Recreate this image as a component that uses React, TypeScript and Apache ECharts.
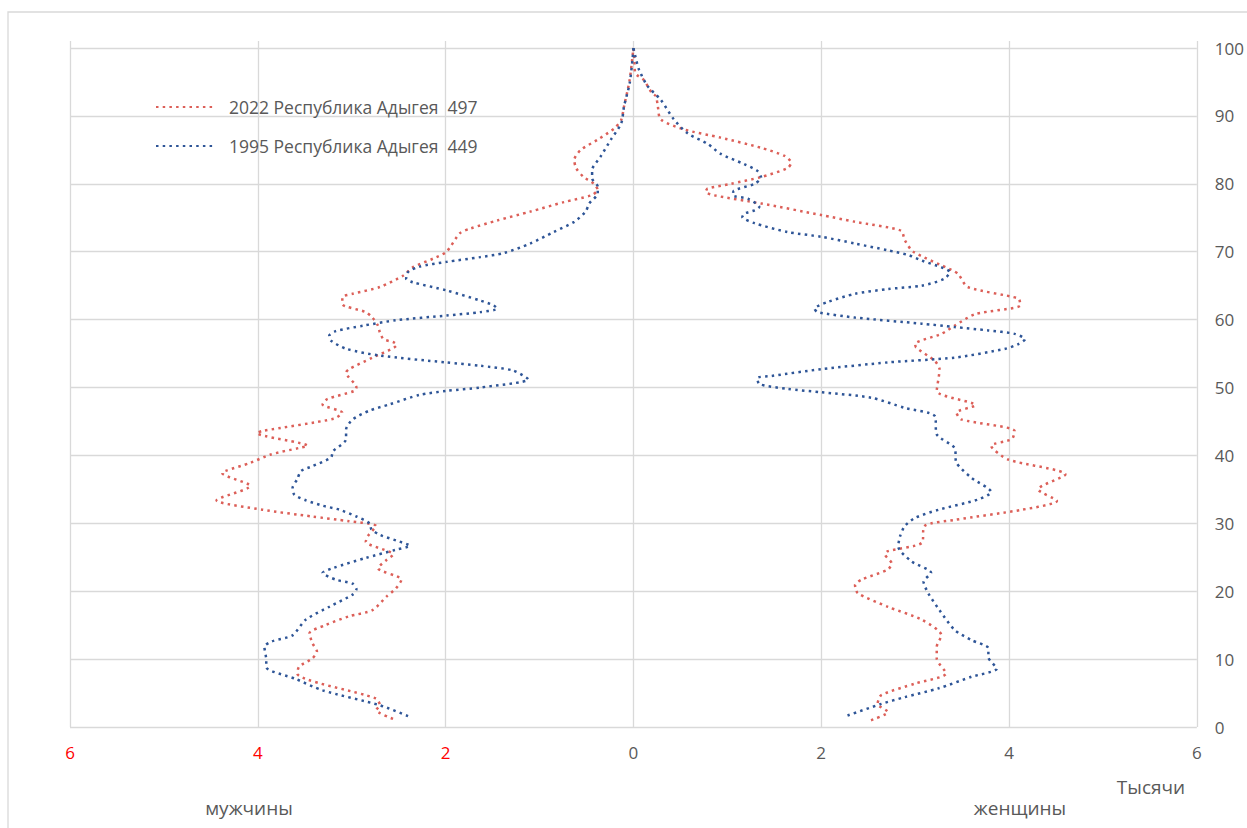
import React, { useEffect, useRef } from "react";
import * as echarts from "echarts";

// ---- Data (thousands of people by age) ----
const name2022 = "2022 Республика Адыгея\u00A0\u00A0497";
const name1995 = "1995 Республика Адыгея\u00A0\u00A0449";

const xTicks = [-6, -4, -2, 0, 2, 4, 6];
const yTicks = [0, 10, 20, 30, 40, 50, 60, 70, 80, 90, 100];

// 2022 men (left side, negative)
const age2022M = [1.2, 2.5, 3.2, 4.2, 7.9, 8.9, 10.1, 11.1, 12.4, 13.8, 15.0, 16.3, 17.2, 19.2, 20.4, 21.7, 23.4, 24.6, 25.4, 27.3, 28.1, 29.6, 30.3, 31.0, 32.0, 33.4, 35.5, 37.4, 37.7, 38.9, 40.1, 41.1, 41.4, 43.3, 43.6, 45.4, 46.3, 47.5, 48.3, 49.5, 50.0, 52.2, 52.7, 54.4, 56.3, 56.7, 57.1, 58.1, 59.1, 60.3, 61.1, 62.3, 63.3, 63.8, 64.8, 66.5, 67.7, 69.0, 70.0, 72.7, 73.4, 74.6, 75.9, 77.3, 78.3, 79.1, 80.0, 81.0, 82.3, 83.5, 85.0, 86.5, 88.2, 89.4, 91.4, 95.3, 100];
const val2022M = [-2.56, -2.74, -2.70, -2.74, -3.58, -3.56, -3.42, -3.37, -3.42, -3.45, -3.28, -3.03, -2.78, -2.63, -2.53, -2.47, -2.72, -2.63, -2.56, -2.85, -2.83, -2.74, -3.03, -3.42, -3.95, -4.44, -4.08, -4.38, -4.35, -4.08, -3.87, -3.56, -3.47, -4.01, -3.95, -3.19, -3.10, -3.31, -3.26, -2.97, -2.95, -3.06, -3.03, -2.78, -2.52, -2.56, -2.66, -2.70, -2.72, -2.78, -2.85, -3.10, -3.10, -2.99, -2.70, -2.45, -2.35, -2.13, -1.99, -1.85, -1.74, -1.45, -1.10, -0.74, -0.45, -0.38, -0.42, -0.53, -0.61, -0.63, -0.56, -0.38, -0.20, -0.13, -0.10, -0.04, 0];

// 2022 women (right side)
const age2022F = [1.0, 2.2, 3.4, 4.7, 6.4, 7.9, 10.1, 11.8, 13.5, 15.8, 17.7, 19.7, 20.9, 21.7, 23.2, 24.1, 25.4, 25.9, 27.1, 29.6, 30.5, 32.0, 33.3, 35.0, 37.2, 39.4, 41.4, 42.4, 43.6, 45.3, 46.3, 47.4, 49.5, 52.7, 53.9, 55.9, 56.4, 57.9, 59.1, 60.8, 62.1, 63.1, 64.8, 66.7, 67.3, 70.0, 71.7, 73.1, 74.4, 75.4, 77.1, 78.3, 78.8, 79.3, 80.0, 81.0, 82.3, 83.1, 84.1, 85.3, 86.8, 88.0, 89.5, 91.4, 92.9, 93.3, 95.3, 96.3, 98.3, 100];
const val2022F = [2.53, 2.71, 2.60, 2.64, 3.00, 3.33, 3.23, 3.23, 3.28, 3.07, 2.71, 2.39, 2.36, 2.43, 2.71, 2.75, 2.68, 2.71, 3.07, 3.10, 3.42, 4.14, 4.51, 4.31, 4.60, 3.99, 3.81, 4.03, 4.06, 3.49, 3.44, 3.64, 3.23, 3.26, 3.21, 3.01, 3.00, 3.28, 3.42, 3.64, 4.12, 4.10, 3.56, 3.46, 3.39, 2.98, 2.89, 2.85, 2.36, 2.00, 1.36, 0.86, 0.77, 0.79, 1.04, 1.36, 1.64, 1.68, 1.61, 1.36, 0.93, 0.54, 0.29, 0.26, 0.24, 0.20, 0.11, 0.02, 0.01, 0];

// 1995 men (left side, negative)
const age1995M = [1.6, 3.2, 5.4, 7.1, 8.8, 9.9, 11.8, 12.6, 13.5, 15.8, 17.7, 19.5, 20.3, 21.1, 21.7, 22.7, 23.4, 24.9, 26.1, 26.7, 27.3, 28.3, 29.1, 30.0, 31.0, 32.0, 32.6, 33.4, 34.2, 35.2, 36.5, 37.7, 38.4, 39.7, 40.6, 42.4, 43.8, 45.3, 46.6, 47.5, 48.9, 49.5, 50.0, 51.2, 52.5, 53.2, 53.7, 54.7, 55.7, 56.9, 57.6, 58.3, 59.1, 59.9, 60.6, 61.1, 61.6, 62.1, 62.8, 64.3, 65.5, 66.0, 67.0, 67.8, 68.5, 69.2, 69.8, 71.2, 72.9, 74.4, 75.9, 77.1, 78.6, 79.6, 80.8, 82.0, 84.0, 86.5, 88.9, 91.4, 94.8, 98.3, 100];
const val1995M = [-2.40, -2.70, -3.31, -3.60, -3.91, -3.91, -3.93, -3.85, -3.63, -3.49, -3.24, -2.99, -2.95, -2.99, -3.17, -3.31, -3.20, -2.85, -2.53, -2.38, -2.49, -2.70, -2.79, -2.81, -2.95, -3.13, -3.31, -3.49, -3.61, -3.63, -3.58, -3.54, -3.42, -3.22, -3.20, -3.06, -3.06, -2.99, -2.81, -2.60, -2.28, -1.99, -1.63, -1.12, -1.28, -1.63, -2.00, -2.70, -3.06, -3.22, -3.24, -3.17, -2.88, -2.53, -1.99, -1.63, -1.45, -1.49, -1.63, -1.99, -2.35, -2.42, -2.40, -2.28, -1.99, -1.63, -1.38, -1.10, -0.85, -0.63, -0.51, -0.47, -0.38, -0.38, -0.44, -0.44, -0.35, -0.24, -0.13, -0.10, -0.04, -0.01, 0];

// 1995 women (right side)
const age1995F = [1.7, 3.4, 4.4, 5.7, 7.4, 8.6, 10.3, 11.6, 12.8, 14.3, 17.2, 19.7, 21.4, 22.7, 24.4, 26.6, 28.1, 29.6, 30.8, 32.0, 33.5, 34.6, 36.7, 38.9, 41.1, 43.1, 45.8, 47.0, 48.5, 49.3, 49.8, 50.5, 51.4, 51.7, 52.7, 53.7, 54.4, 55.7, 56.4, 57.1, 57.9, 58.4, 58.9, 59.4, 60.3, 61.1, 61.6, 62.6, 63.8, 64.5, 65.0, 66.0, 67.0, 67.7, 68.7, 69.5, 70.2, 71.2, 72.2, 72.9, 74.2, 75.1, 75.6, 76.1, 76.6, 77.8, 78.3, 79.0, 80.0, 80.9, 81.9, 82.9, 84.4, 85.9, 87.4, 89.5, 92.4, 94.4, 96.8, 98.8, 100];
const val1995F = [2.28, 2.64, 2.89, 3.25, 3.60, 3.87, 3.78, 3.78, 3.60, 3.42, 3.26, 3.14, 3.09, 3.17, 2.96, 2.82, 2.84, 2.89, 3.00, 3.25, 3.67, 3.81, 3.60, 3.44, 3.42, 3.23, 3.21, 2.89, 2.53, 2.00, 1.64, 1.34, 1.32, 1.47, 2.00, 2.71, 3.42, 3.96, 4.10, 4.17, 4.06, 3.78, 3.42, 3.07, 2.36, 1.96, 1.93, 2.07, 2.36, 2.71, 3.07, 3.31, 3.37, 3.28, 3.07, 2.93, 2.71, 2.36, 2.00, 1.64, 1.29, 1.16, 1.18, 1.29, 1.34, 1.22, 1.06, 1.07, 1.29, 1.36, 1.32, 1.18, 0.93, 0.79, 0.58, 0.43, 0.29, 0.15, 0.06, 0.02, 0];

const RED = "#dc5f58";
const BLUE = "#2e5597";
const GRID = "#d9d9d9";
const TXT = "#595959";
const FONT = "'Open Sans', 'Noto Sans', sans-serif";

function pairs(vals: number[], ages: number[]) {
  return vals.map((v, i) => [v, ages[i]]);
}

function lineSeries(name: string, color: string, data: number[][]) {
  return {
    name,
    type: "line",
    data,
    symbol: "none",
    smooth: 0.25,
    lineStyle: { color, width: 2.5, type: [2.5, 4.2], cap: "butt" },
    itemStyle: { color },
  };
}

export default function App() {
  const ref = useRef<HTMLDivElement>(null);
  useEffect(() => {
    if (!ref.current) return;
    const chart = echarts.init(ref.current, null, { renderer: "svg" });
    chart.setOption({
      animation: false,
      backgroundColor: "#ffffff",
      textStyle: { fontFamily: FONT },
      grid: { left: 70, right: 1247 - 1197, top: 48, bottom: 828 - 727, containLabel: false },
      legend: {
        left: 150,
        top: 93,
        orient: "vertical",
        itemWidth: 60,
        itemHeight: 12,
        itemGap: 21,
        data: [name2022, name1995],
        itemStyle: { opacity: 0 },
        textStyle: { fontSize: 17.5, color: TXT, fontFamily: FONT, padding: [0, 0, 0, 8] },
      },
      xAxis: [
        {
          type: "value",
          min: xTicks[0],
          max: xTicks[xTicks.length - 1],
          interval: 2,
          position: "bottom",
          axisLine: { show: false },
          axisTick: { show: false },
          splitLine: { show: true, lineStyle: { color: GRID, width: 1.3 } },
          axisLabel: {
            margin: 17,
            fontSize: 17,
            fontFamily: FONT,
            color: (v: number) => (v < 0 ? "#ff0000" : TXT),
            formatter: (v: number) => String(Math.abs(v)),
          },
        },
        {
          type: "value",
          min: xTicks[0],
          max: xTicks[xTicks.length - 1],
          interval: 2,
          position: "top",
          axisLine: { show: false },
          axisTick: { show: true, length: 7, lineStyle: { color: GRID, width: 1.3 } },
          axisLabel: { show: false },
          splitLine: { show: false },
        },
      ],
      yAxis: {
        type: "value",
        position: "right",
        min: yTicks[0],
        max: yTicks[yTicks.length - 1],
        interval: 10,
        axisLine: { show: false },
        axisTick: { show: false },
        splitLine: { show: true, lineStyle: { color: GRID, width: 1.3 } },
        axisLabel: { margin: 18, fontSize: 17, color: TXT, fontFamily: FONT, align: "left" },
      },
      series: [
        lineSeries(name2022, RED, pairs(val2022M, age2022M)),
        lineSeries(name2022, RED, pairs(val2022F, age2022F)),
        lineSeries(name1995, BLUE, pairs(val1995M, age1995M)),
        lineSeries(name1995, BLUE, pairs(val1995F, age1995F)),
      ],
      graphic: [
        {
          type: "rect",
          silent: true,
          shape: { x: 8, y: 12, width: 1400, height: 1000 },
          style: { fill: "none", stroke: GRID, lineWidth: 1.3 },
          z: -1,
        },
        {
          type: "text",
          x: 1151,
          y: 787,
          style: { text: "Тысячи", fill: TXT, font: `19px ${FONT}`, align: "center", verticalAlign: "middle" },
        },
        {
          type: "text",
          x: 249,
          y: 808,
          style: { text: "мужчины", fill: TXT, font: `19px ${FONT}`, align: "center", verticalAlign: "middle" },
        },
        {
          type: "text",
          x: 1020,
          y: 808,
          style: { text: "женщины", fill: TXT, font: `19px ${FONT}`, align: "center", verticalAlign: "middle" },
        },
      ],
    });
    return () => chart.dispose();
  }, []);
  return (
    <div
      ref={ref}
      style={{ position: "absolute", left: 0, top: 0, width: 1247, height: 828 }}
    />
  );
}
